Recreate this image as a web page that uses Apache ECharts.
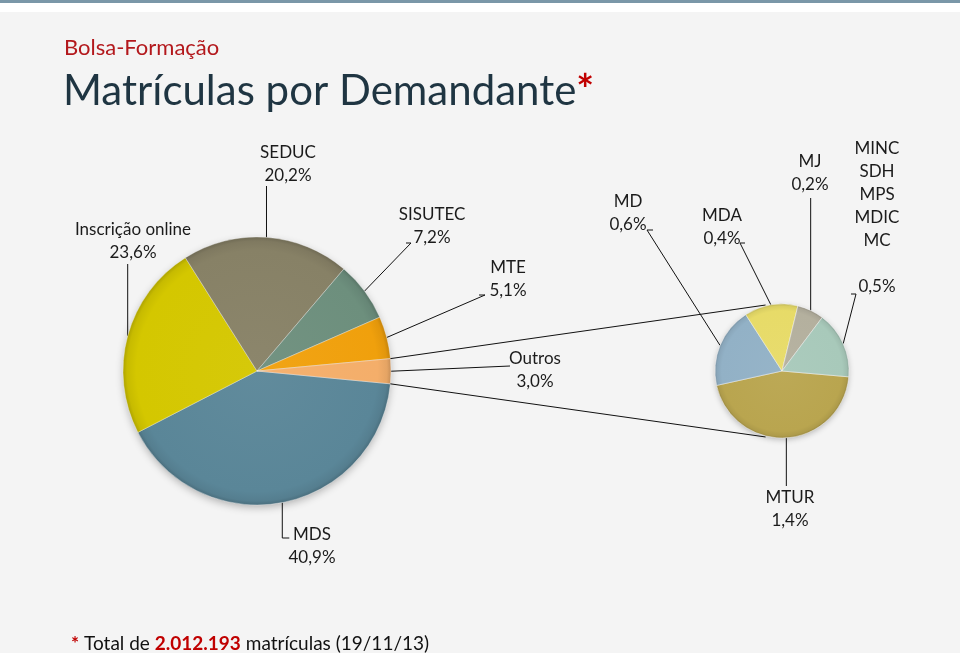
<!DOCTYPE html>
<html><head><meta charset="utf-8">
<script src="https://cdn.jsdelivr.net/npm/echarts@6/dist/echarts.min.js"></script>
<style>html,body{margin:0;padding:0;background:#f4f4f4}#c{width:960px;height:653px}</style>
</head><body><div id="c"></div>
<script>
// ---- data ----
const mainNames = ['MDS', 'Inscrição online', 'SEDUC', 'SISUTEC', 'MTE', 'Outros'];
const mainValues = [40.9, 23.6, 20.2, 7.2, 5.1, 3.0];
const subNames = ['MTUR', 'MD', 'MDA', 'MJ', 'MINC\nSDH\nMPS\nMDIC\nMC'];
const subValues = [1.4, 0.6, 0.4, 0.2, 0.5];

// ---- style / layout ----
const FONT = 'Lato, sans-serif';
const mainColors = ['#5a8698', '#d4c700', '#878166', '#6d8f7d', '#f0a00c', '#f4ae6a'];
const subColors = ['#b9a54f', '#92b1c6', '#e7db68', '#b4b09e', '#a8c9ba'];
const MC = [257, 371], MR = 134, MSTART = -5.5;
const SC = [782, 371], SR = 67, SSTART = -5;

// label centers and leader specs
const mainLabel = [
  {x: 312, y: 546, v: 538, tick: 7},
  {x: 133, y: 241, v: 264},
  {x: 288, y: 164, v: 186},
  {x: 432, y: 226, to: [411, 243], tick: -5},
  {x: 508, y: 279, to: [485, 295], tick: -6},
  {x: 535, y: 370, to: [510, 366]}
];
const subLabel = [
  {x: 790, y: 509, v: 486},
  {x: 628, y: 213, to: [647, 230], tick: 6},
  {x: 722, y: 227, to: [740, 243], tick: 5},
  {x: 810, y: 173, v: 198},
  {x: 877, y: 218, to: [856, 294], tick: -5}
];

function midAngles(values, start) {
  const total = values.reduce((a, b) => a + b, 0);
  let a = start;
  return values.map(v => { const s = v / total * 360; const m = a - s / 2; a -= s; return m; });
}
function edgeAngles(values, start) {
  const total = values.reduce((a, b) => a + b, 0);
  let a = start; const out = [a];
  values.forEach(v => { a -= v / total * 360; out.push(a); });
  return out;
}
function pt(c, r, deg) { const t = deg * Math.PI / 180; return [c[0] + r * Math.cos(t), c[1] - r * Math.sin(t)]; }
function shade(hex, f) {
  const n = parseInt(hex.slice(1), 16);
  let r = n >> 16, g = (n >> 8) & 255, b = n & 255;
  const m = x => Math.max(0, Math.min(255, Math.round(f >= 0 ? x + (255 - x) * f : x * (1 + f))));
  return 'rgb(' + m(r) + ',' + m(g) + ',' + m(b) + ')';
}
function grad(col, c, r) {
  return {type: 'radial', x: c[0], y: c[1], r: r, global: true,
    colorStops: [{offset: 0, color: shade(col, 0.04)}, {offset: 0.9, color: col}, {offset: 0.97, color: shade(col, -0.06)}, {offset: 1, color: shade(col, -0.18)}]};
}
function fmt(v) { return v.toFixed(1).replace('.', ',') + '%'; }

const mainMid = midAngles(mainValues, MSTART);
const subMid = midAngles(subValues, SSTART);

function leader(spec, anchor) {
  const pts = [anchor];
  if (spec.v !== undefined) {
    pts.push([anchor[0], spec.v]);
    if (spec.tick) pts.push([anchor[0] + spec.tick, spec.v]);
  } else {
    pts.push(spec.to);
    if (spec.tick) pts.push([spec.to[0] + spec.tick, spec.to[1]]);
  }
  return pts;
}

const mainData = mainNames.map((n, i) => ({name: n, value: mainValues[i], itemStyle: {color: grad(mainColors[i], MC, MR)}}));
const subData = subNames.map((n, i) => ({name: n, value: subValues[i], itemStyle: {color: grad(subColors[i], SC, SR)}}));

// connector lines between pies (from Outros slice edges to secondary pie)
const outrosIdx = mainNames.indexOf('Outros');
const mEdges = edgeAngles(mainValues, MSTART);
const pTopMain = pt(MC, MR, mEdges[outrosIdx]);
const pBotMain = pt(MC, MR, mEdges[outrosIdx + 1]);
const pTopSub = pt(SC, SR + 1, 104);
const pBotSub = pt(SC, SR + 1, -104);

const chart = echarts.init(document.getElementById('c'));
const labelCommon = {
  show: true, color: '#1b1b1b', fontFamily: FONT, fontSize: 17, lineHeight: 23, align: 'center', overflow: 'none'
};
chart.setOption({
  backgroundColor: '#f4f4f4',
  animation: false,
  title: [
    {text: 'Bolsa-Formação', left: 59, top: 32,
      textStyle: {color: '#b3181c', fontSize: 22, fontWeight: 'normal', fontFamily: FONT}},
    {text: '{a|Matrículas por Demandante}{b|*}', left: 58, top: 65,
      textStyle: {fontWeight: 'normal', rich: {
        a: {color: '#1f3542', fontSize: 42, fontFamily: FONT, fontWeight: 'normal'},
        b: {color: '#c00000', fontSize: 42, fontFamily: FONT, fontWeight: 'bold'}}}},
    {text: '{r|*} {t|Total de }{n|2.012.193}{t| matrículas (19/11/13)}', left: 66, top: 629,
      textStyle: {fontWeight: 'normal', rich: {
        r: {color: '#c00000', fontSize: 19, fontFamily: FONT, fontWeight: 'bold'},
        t: {color: '#111', fontSize: 19, fontFamily: FONT, fontWeight: 'normal'},
        n: {color: '#c00000', fontSize: 19, fontFamily: FONT, fontWeight: 'bold'}}}}
  ],
  graphic: [
    {type: 'rect', shape: {x: 0, y: 0, width: 960, height: 3}, style: {fill: '#7a97a8'}, z: -10},
    {type: 'rect', shape: {x: 0, y: 3, width: 960, height: 9}, style: {fill: '#ffffff'}, z: -10},
    {type: 'circle', shape: {cx: MC[0], cy: MC[1], r: MR - 1}, style: {fill: '#888', shadowBlur: 8, shadowOffsetY: 3, shadowColor: 'rgba(0,0,0,0.3)'}, z: -5},
    {type: 'circle', shape: {cx: SC[0], cy: SC[1], r: SR - 1}, style: {fill: '#888', shadowBlur: 6, shadowOffsetY: 2, shadowColor: 'rgba(0,0,0,0.3)'}, z: -5},
    {type: 'line', shape: {x1: pTopMain[0], y1: pTopMain[1], x2: pTopSub[0], y2: pTopSub[1]}, style: {stroke: '#111', lineWidth: 1}, z: 10},
    {type: 'line', shape: {x1: pBotMain[0], y1: pBotMain[1], x2: pBotSub[0], y2: pBotSub[1]}, style: {stroke: '#111', lineWidth: 1}, z: 10}
  ],
  series: [
    {
      type: 'pie', center: MC, radius: MR, startAngle: MSTART, clockwise: true,
      data: mainData,
      itemStyle: {borderColor: 'rgba(255,255,255,0.35)', borderWidth: 1},
      label: Object.assign({}, labelCommon, {formatter: p => p.name + '\n' + fmt(p.value)}),
      labelLine: {show: true, lineStyle: {color: '#111', width: 1}},
      labelLayout: p => {
        const s = mainLabel[p.dataIndex];
        return {x: s.x, y: s.y, align: 'center', verticalAlign: 'middle',
          labelLinePoints: leader(s, pt(MC, MR, mainMid[p.dataIndex]))};
      },
      emphasis: {disabled: true}
    },
    {
      type: 'pie', center: SC, radius: SR, startAngle: SSTART, clockwise: true,
      data: subData,
      itemStyle: {borderColor: 'rgba(255,255,255,0.45)', borderWidth: 1},
      label: Object.assign({}, labelCommon, {formatter: p => p.dataIndex === 4 ? p.name + '\n\n' + fmt(p.value) : p.name + '\n' + fmt(p.value)}),
      labelLine: {show: true, lineStyle: {color: '#111', width: 1}},
      labelLayout: p => {
        const s = subLabel[p.dataIndex];
        return {x: s.x, y: s.y, align: 'center', verticalAlign: 'middle',
          labelLinePoints: leader(s, pt(SC, SR, subMid[p.dataIndex]))};
      },
      emphasis: {disabled: true}
    }
  ]
});
</script></body></html>
